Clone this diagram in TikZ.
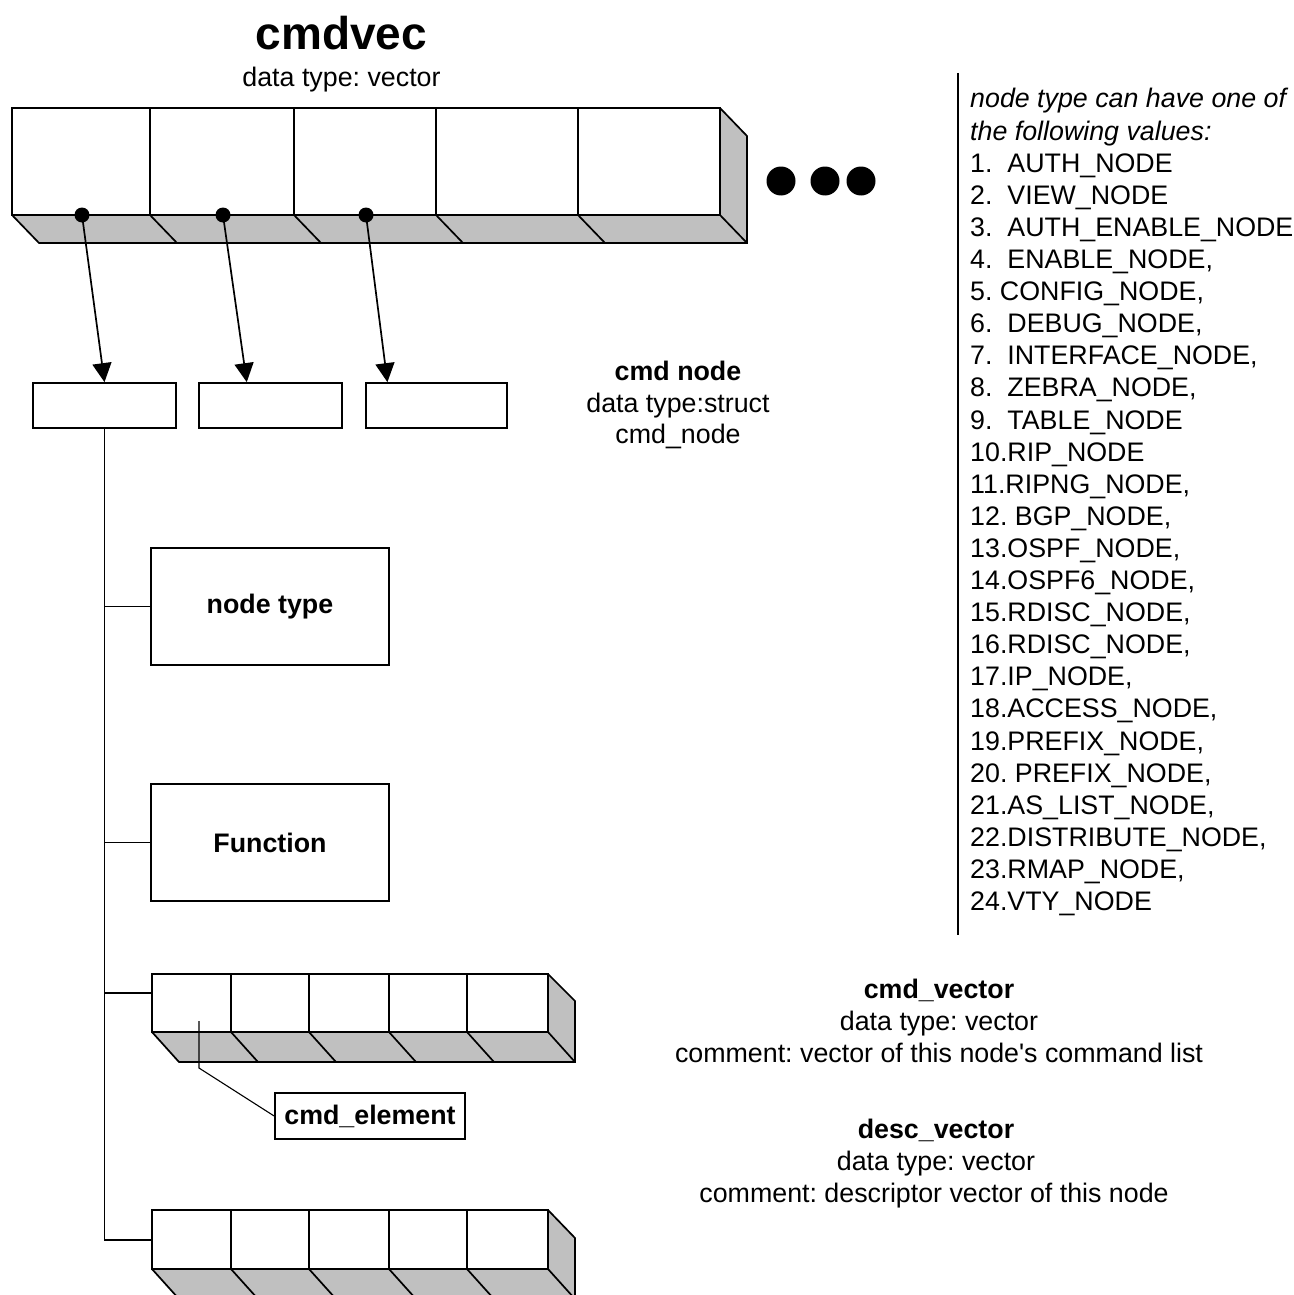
\documentclass[tikz,border=0pt]{standalone}
\usepackage{fontspec}
\setmainfont{Liberation Sans}
\usetikzlibrary{arrows.meta,calc}
\definecolor{vgray}{HTML}{C0C0C0}
\frenchspacing
\newcommand\fs{\fontsize{26.8}{32}\selectfont}
\newcommand\ftitle{\fontsize{46}{50}\selectfont\bfseries}
\newcommand\listline[2]{\node[lt] (L#1) at (970,{108+32.1*#1}) {#2};}
\begin{document}
\begin{tikzpicture}[x=1pt,y=-1pt,line join=miter,
  ln/.style={line width=1.7pt},
  thinln/.style={line width=1.1pt},
  box/.style={draw,line width=1.7pt,rectangle,inner sep=0pt},
  txt/.style={inner sep=0pt,font=\fs},
  lt/.style={inner sep=0pt,font=\fs,anchor=base west},
  ptr/.style={circle,fill=black,inner sep=0pt,minimum size=15pt},
  arr/.style={line width=1.7pt,-{Triangle[length=19pt,width=19pt]}}]
\useasboundingbox (0,0) rectangle (1293,1295);
\clip (0,0) rectangle (1293,1295);

% ---------- top vector (cmdvec) ----------
\fill[vgray] (12,215) -- (720,215) -- (747,243) -- (39,243) -- cycle;
\fill[vgray] (720,108) -- (747,136) -- (747,243) -- (720,215) -- cycle;
\draw[ln] (12,108) rectangle (720,215);
\draw[ln] (12,215) -- (39,243) -- (747,243) -- (747,136) -- (720,108);
\draw[ln] (720,215) -- (747,243);
\foreach \x in {150,294,436,578} {\draw[ln] (\x,108) -- (\x,215) -- (\x+27,243);}

% continuation dots
\fill (781,181) circle (14.5pt);
\fill (825,181) circle (14.5pt);
\fill (861,181) circle (14.5pt);

% ---------- title ----------
\node[txt,font=\ftitle,anchor=base] (title) at (341.5,50) {cmdvec};
\node[txt,anchor=base] (titlesub) at (341.5,87) {data type: vector};

% ---------- cmd node boxes ----------
\node[box,minimum width=143pt,minimum height=45pt] (b1) at (104.5,405.5) {};
\node[box,minimum width=143pt,minimum height=45pt] (b2) at (270.5,405.5) {};
\node[box,minimum width=141pt,minimum height=45pt] (b3) at (436.5,405.5) {};

\node[ptr] (d1) at (82,215) {};
\node[ptr] (d2) at (223,215) {};
\node[ptr] (d3) at (366,215) {};
\draw[arr] (d1.center) -- (b1.north);
\draw[arr] (d2.center) -- ($(b2.north west)!0.336!(b2.north east)$);
\draw[arr] (d3.center) -- ($(b3.north west)!0.156!(b3.north east)$);

\node[txt,font=\fs\bfseries,anchor=base] (cn1) at (678,380) {cmd node};
\node[txt,anchor=base] (cn2) at (678,412) {data type:struct};
\node[txt,anchor=base] (cn3) at (678,443) {cmd\_node};

% ---------- struct members ----------
\node[box,minimum width=238pt,minimum height=117pt,font=\fs\bfseries] (nt) at (270,606.5) {node type};
\node[box,minimum width=238pt,minimum height=117pt,font=\fs\bfseries] (fn) at (270,842.5) {Function};

\coordinate (cv) at (152,993);
\coordinate (dv) at (152,1240);
\draw[ln] (b1.south) |- (dv);
\draw[ln] (b1.south) |- (nt.west);
\draw[ln] (b1.south) |- (fn.west);
\draw[ln] (b1.south) |- (cv);

% ---------- cmd_vector ----------
\fill[vgray] (152,1032) -- (548,1032) -- (575,1062) -- (179,1062) -- cycle;
\fill[vgray] (548,974) -- (575,1001) -- (575,1062) -- (548,1032) -- cycle;
\draw[ln] (152,974) rectangle (548,1032);
\draw[ln] (152,1032) -- (179,1062) -- (575,1062) -- (575,1001) -- (548,974);
\draw[ln] (548,1032) -- (575,1062);
\foreach \x in {231,309,389,467} {\draw[ln] (\x,974) -- (\x,1032) -- (\x+27,1062);}

% ---------- desc_vector ----------
\fill[vgray] (152,1269) -- (548,1269) -- (575,1299) -- (179,1299) -- cycle;
\fill[vgray] (548,1210) -- (575,1238) -- (575,1299) -- (548,1269) -- cycle;
\draw[ln] (152,1210) rectangle (548,1269);
\draw[ln] (152,1269) -- (179,1299) -- (575,1299) -- (575,1238) -- (548,1210);
\draw[ln] (548,1269) -- (575,1299);
\foreach \x in {231,309,389,467} {\draw[ln] (\x,1210) -- (\x,1269) -- (\x+27,1299);}

% ---------- cmd_element ----------
\node[box,minimum width=190pt,minimum height=46pt,font=\fs\bfseries] (ce) at (370,1116) {cmd\_element};
\coordinate (cep) at (199,1021);
\draw[thinln] (cep) -- (199,1068) -- (ce.west);

% ---------- descriptions ----------
\node[txt,font=\fs\bfseries,anchor=base] (cvt1) at (939,998) {cmd\_vector};
\node[txt,anchor=base] (cvt2) at (939,1030) {data type: vector};
\node[txt,anchor=base] (cvt3) at (939,1062) {comment: vector of this node\textquotesingle s command list};
\node[txt,font=\fs\bfseries,anchor=base] (dvt1) at (936,1138) {desc\_vector};
\node[txt,anchor=base] (dvt2) at (936,1170) {data type: vector};
\node[txt,anchor=base] (dvt3) at (934,1202) {comment: descriptor vector of this node};

% ---------- node type values ----------
\draw[ln] (958,73) -- (958,935);
\listline{0}{\itshape node type can have one of}
\listline{1}{\itshape the following values:}
\listline{2}{1.\ \ AUTH\_NODE}
\listline{3}{2.\ \ VIEW\_NODE}
\listline{4}{3.\ \ AUTH\_ENABLE\_NODE}
\listline{5}{4.\ \ ENABLE\_NODE,}
\listline{6}{5. CONFIG\_NODE,}
\listline{7}{6.\ \ DEBUG\_NODE,}
\listline{8}{7.\ \ INTERFACE\_NODE,}
\listline{9}{8.\ \ ZEBRA\_NODE,}
\listline{10}{9.\ \ TABLE\_NODE}
\listline{11}{10.RIP\_NODE}
\listline{12}{11.RIPNG\_NODE,}
\listline{13}{12. BGP\_NODE,}
\listline{14}{13.OSPF\_NODE,}
\listline{15}{14.OSPF6\_NODE,}
\listline{16}{15.RDISC\_NODE,}
\listline{17}{16.RDISC\_NODE,}
\listline{18}{17.IP\_NODE,}
\listline{19}{18.ACCESS\_NODE,}
\listline{20}{19.PREFIX\_NODE,}
\listline{21}{20. PREFIX\_NODE,}
\listline{22}{21.AS\_LIST\_NODE,}
\listline{23}{22.DISTRIBUTE\_NODE,}
\listline{24}{23.RMAP\_NODE,}
\listline{25}{24.VTY\_NODE}
\end{tikzpicture}
\end{document}
